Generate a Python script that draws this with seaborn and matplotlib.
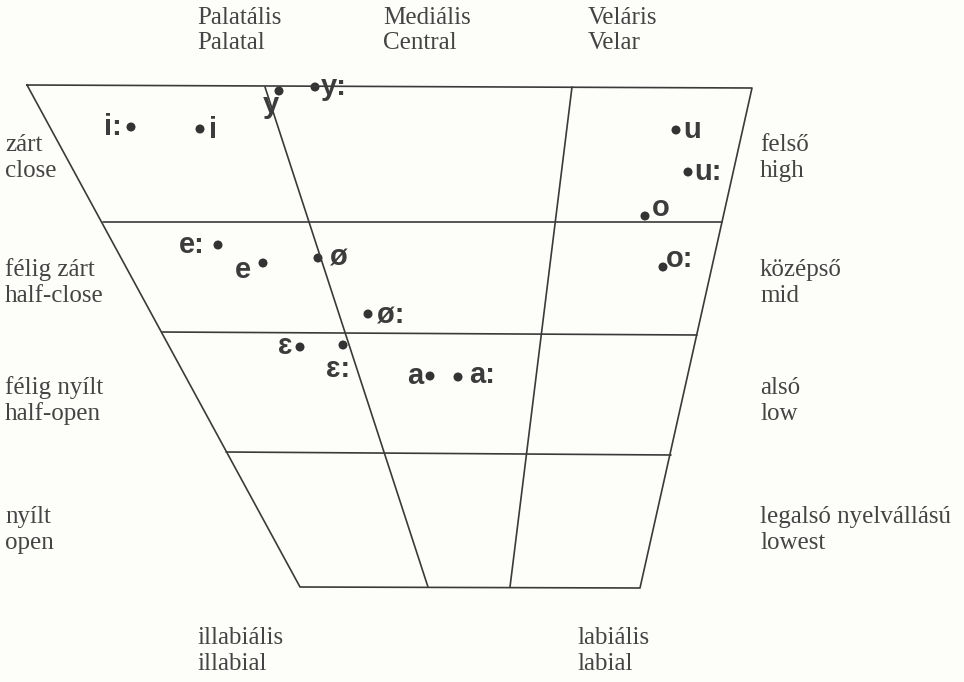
import pandas as pd
import seaborn as sns
import matplotlib.pyplot as plt

# Chart geometry in picture coordinates (x right, y down)
outline_x = [27, 752, 640, 300, 27]
outline_y = [85, 88, 588, 587, 85]

grid_x0 = [103, 162, 226, 265, 572]
grid_y0 = [222, 332, 452, 87, 87]
grid_x1 = [722, 697, 671, 428, 510]
grid_y1 = [222, 335, 455, 587, 587]

# Vowels: dot position and label position
vowels = ["i:", "i", "y", "y:", "u", "u:", "o", "o:",
          "e:", "e", "ø", "ø:", "ɛ", "ɛ:", "a", "a:"]
dot_x = [131, 200, 279, 315, 676, 688, 645, 663,
         218, 263, 318, 368, 300, 343, 430, 458]
dot_y = [127, 129, 91, 87, 130, 172, 216, 267,
         245, 263, 258, 314, 347, 345, 376, 377]
lab_x = [113, 213, 271, 334, 692, 708, 661, 680,
         192, 243, 339, 391, 285, 338, 415, 482]
lab_y = [127, 130, 105, 87, 130, 172, 208, 259,
         245, 270, 258, 316, 346, 369, 376, 375]

top_labels = [("Palatális", "Palatal", 197), ("Mediális", "Central", 383),
              ("Veláris", "Velar", 588)]
left_labels = [("zárt", "close", 145), ("félig zárt", "half-close", 270),
               ("félig nyílt", "half-open", 388), ("nyílt", "open", 517)]
right_labels = [("felső", "high", 145), ("középső", "mid", 270),
                ("alsó", "low", 388), ("legalsó nyelvállású", "lowest", 517)]
bottom_labels = [("illabiális", "illabial", 197), ("labiális", "labial", 577)]

sns.set_style("white")
bg = "#fdfdfa"
ink = "#3a3a3a"

fig = plt.figure(figsize=(9.64, 6.82), dpi=100, facecolor=bg)
ax = fig.add_axes([0, 0, 1, 1])
ax.set_facecolor(bg)

# lines
segs = [{"x": x, "y": y, "seg": 0} for x, y in zip(outline_x, outline_y)]
for i, (a, b, c, d) in enumerate(zip(grid_x0, grid_y0, grid_x1, grid_y1), start=1):
    segs.append({"x": a, "y": b, "seg": i})
    segs.append({"x": c, "y": d, "seg": i})
seg_df = pd.DataFrame(segs)
sns.lineplot(data=seg_df, x="x", y="y", units="seg", estimator=None, sort=False,
             color=ink, linewidth=1.2, ax=ax, legend=False)

# vowel dots and symbols
vdf = pd.DataFrame({"vowel": vowels, "x": dot_x, "y": dot_y})
sns.scatterplot(data=vdf, x="x", y="y", s=42, color="#333333", edgecolor="none",
                ax=ax, legend=False)
for v, x, y in zip(vowels, lab_x, lab_y):
    ax.text(x, y, v, ha="center", va="center", fontsize=21, fontweight="bold",
            family=["Liberation Sans", "DejaVu Sans"], color="#3c3c3c")

serif = dict(family="Liberation Serif", fontsize=18, color="#444444", va="center")
for hu, en, x in top_labels:
    ax.text(x, 18, hu, ha="left", **serif)
    ax.text(x, 43, en, ha="left", **serif)
for hu, en, y in left_labels:
    ax.text(5, y, hu, ha="left", **serif)
    ax.text(5, y + 26, en, ha="left", **serif)
for hu, en, y in right_labels:
    ax.text(760, y, hu, ha="left", **serif)
    ax.text(760, y + 26, en, ha="left", **serif)
for hu, en, x in bottom_labels:
    ax.text(x, 638, hu, ha="left", **serif)
    ax.text(x, 664, en, ha="left", **serif)

ax.set_xlim(0, 964)
ax.set_ylim(682, 0)
ax.set_xlabel("")
ax.set_ylabel("")
ax.axis("off")

fig.savefig("out.png", dpi=100, facecolor=bg)
